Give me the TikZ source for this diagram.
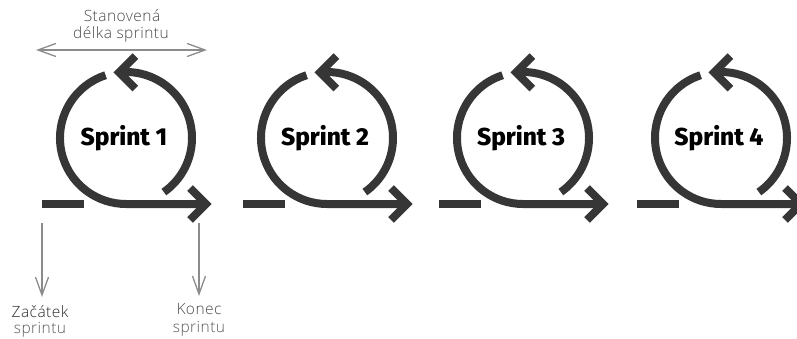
\documentclass[tikz,border=0pt]{standalone}
\usepackage{fontspec}
\setmainfont{Open Sans}
\IfFontExistsTF{Fira Sans ExtraBold}{%
  \newfontfamily\sprintfontA{Fira Sans ExtraBold}\newcommand\sprintfont{\sprintfontA}}{%
  \IfFontExistsTF{Fira Sans Heavy}{%
    \newfontfamily\sprintfontA{Fira Sans Heavy}\newcommand\sprintfont{\sprintfontA}}{%
    \newfontfamily\sprintfontA{Fira Sans}\newcommand\sprintfont{\sprintfontA\bfseries}}}
\IfFontExistsTF{Open Sans Light}{%
  \newfontfamily\labfont[LetterSpace=3]{Open Sans Light}}{%
  \newfontfamily\labfont[LetterSpace=3]{Open Sans}}
\usetikzlibrary{arrows.meta}
\definecolor{loopc}{HTML}{363636}
\definecolor{annc}{HTML}{8C8C8C}
\definecolor{txtc}{HTML}{5A5A5A}
\definecolor{txtd}{HTML}{2A2A2A}
\begin{document}
\begin{tikzpicture}[x=1pt,y=1pt,
  loopline/.style={line width=8pt, draw=loopc, line cap=butt, line join=miter},
  sprinttext/.style={font=\sprintfont\fontsize{24.5}{26}\selectfont, text=black, anchor=base, inner sep=0pt},
  lab/.style={font=\labfont\fontsize{15.5}{17}\selectfont, text=txtc, inner sep=0pt, anchor=base},
  barb/.tip={Straight Barb[length=18pt,width=13pt]},
  ann/.style={draw=annc, line width=1.3pt}]
\useasboundingbox (0,0) rectangle (797,338);
\clip (0,0) rectangle (797,338);
\foreach \C/\n in {126/1,327/2,523/3,721/4}{
  \coordinate (c\n) at (\C,200);
  \node[sprinttext] (s\n) at (\C-2,193) {Sprint \n};
  % main loop: left arc, bottom, arrow to the right
  \draw[loopline] ([shift={(108:66)}]c\n) arc[start angle=108,end angle=270,radius=66] -- ++(80,0) coordinate (t\n);
  \draw[loopline] ([shift={(-16,16)}]t\n) -- (t\n) -- ([shift={(-16,-16)}]t\n);
  % right arc with arrow pointing left at top
  \draw[loopline] ([shift={(-55:66)}]c\n) arc[start angle=-55,end angle=96,radius=66] coordinate (h\n);
  \draw[loopline] ([shift={(45:23)}]h\n) -- (h\n) -- ([shift={(-45:23)}]h\n);
  % start bar
  \draw[loopline] (\C-84,134) -- (\C-42,134);
}
% sprint length annotation
\node[lab, text=txtd!85] (stan) at (122,316) {Stanovená};
\node[lab, text=txtd!85] (delka) at (121,299) {délka sprintu};
\coordinate (dl) at (36,288);
\coordinate (dr) at (207,288);
\draw[ann, barb-barb] (dl) -- (dr);
% start / end annotations
\coordinate (za) at (42,115);
\coordinate (zb) at (42,41);
\coordinate (ka) at (199,115);
\coordinate (kb) at (199,42);
\draw[ann, -barb] (za) -- (zb);
\draw[ann, -barb] (ka) -- (kb);
\node[lab, text=txtd] (zac) at (40,21) {Začátek};
\node[lab] (zsp) at (40,5) {sprintu};
\node[lab, text=txtd!85] (kon) at (199,24) {Konec};
\node[lab] (ksp) at (199,6) {sprintu};
\end{tikzpicture}
\end{document}
